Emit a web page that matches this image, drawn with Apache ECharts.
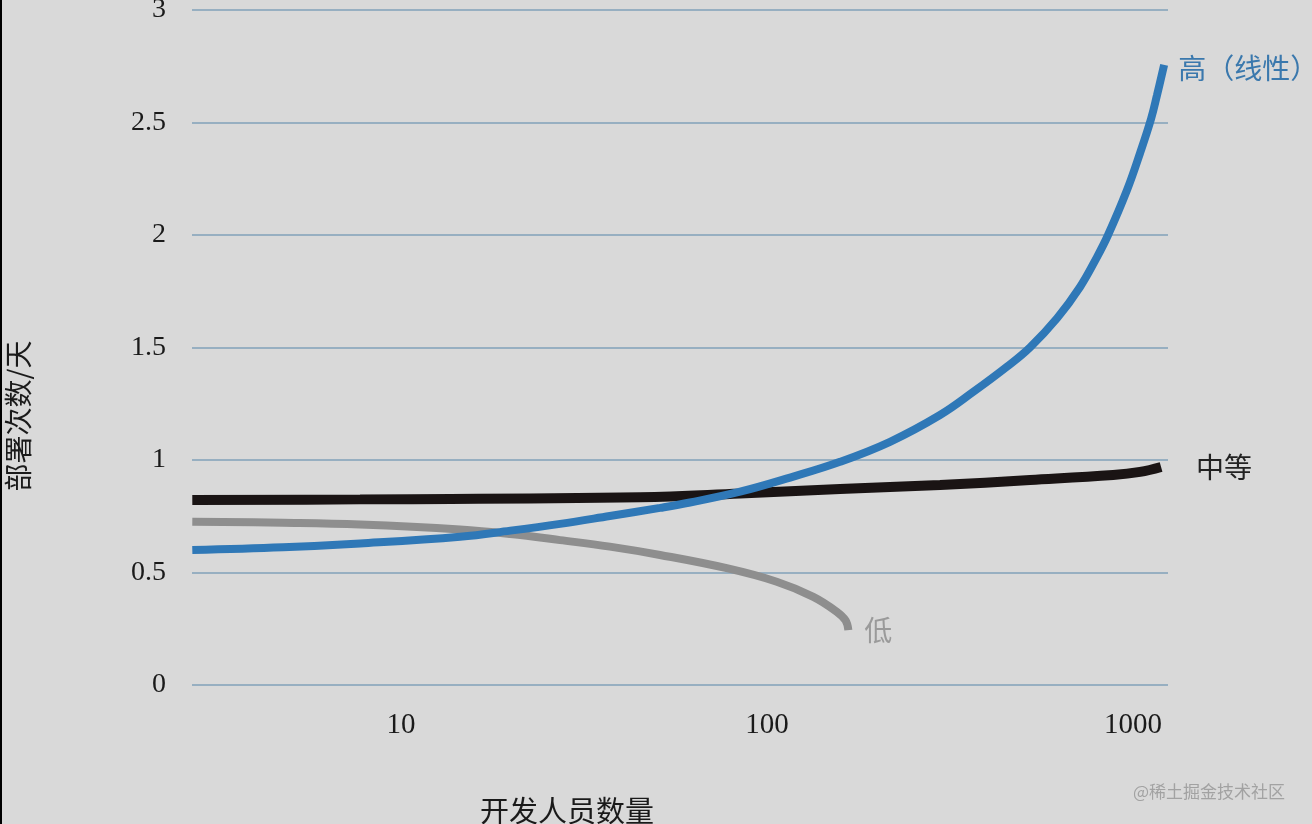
<!DOCTYPE html>
<html>
<head>
<meta charset="utf-8">
<script src="https://cdn.jsdelivr.net/npm/echarts@6/dist/echarts.min.js"></script>
<style>
html,body{margin:0;padding:0;background:#d9d9d9;}
#chart{width:1312px;height:824px;}
</style>
</head>
<body>
<div id="chart"></div>
<script>
// x: number of developers (log scale), y: deployments per day
var highData = [
  [2.69, 0.600], [4.76, 0.612], [7.73, 0.629], [14.5, 0.659], [19.9, 0.686],
  [27.2, 0.716], [37.2, 0.751], [51.0, 0.787], [61.6, 0.811], [84.4, 0.859],
  [115.6, 0.922], [158.3, 0.992], [216.8, 1.081], [296.9, 1.200], [365.4, 1.302],
  [452.6, 1.415], [523.2, 1.501], [619.9, 1.630], [716.4, 1.769], [797.1, 1.902],
  [854.5, 2.000], [962.9, 2.200], [1045, 2.364], [1120, 2.516], [1163, 2.622],
  [1216, 2.756]
];
var mediumData = [
  [2.69, 0.822], [7.73, 0.825], [45.0, 0.834], [84.4, 0.851], [158.3, 0.871],
  [296.9, 0.889], [523.2, 0.911], [882, 0.933], [1045, 0.947], [1193, 0.969]
];
var lowData = [
  [2.69, 0.726], [4.76, 0.721], [7.73, 0.713], [14.5, 0.691], [19.9, 0.671],
  [27.2, 0.644], [37.2, 0.615], [51.0, 0.578], [77.6, 0.519], [106.3, 0.459],
  [133.8, 0.392], [155.0, 0.326], [163.9, 0.287], [166.8, 0.244]
];
var seriesNames = ['高（线性）', '中等', '低'];
var xTickValues = [10, 100, 1000];
var yAxisTitle = '部署次数/天';
var xAxisTitle = '开发人员数量';
var watermark = '@稀土掘金技术社区';

var serif = '"Liberation Serif", "Noto Sans CJK SC", serif';
var cjk = '"Noto Sans CJK SC", "Liberation Serif", sans-serif';

var chart = echarts.init(document.getElementById('chart'));
chart.setOption({
  animation: false,
  backgroundColor: '#d9d9d9',
  grid: { left: 192, right: 144, top: 10, bottom: 139, outerBoundsMode: 'none', containLabel: false },
  xAxis: {
    type: 'log',
    logBase: 10,
    min: 2.685,
    max: 1246,
    axisLine: { show: false },
    axisTick: { show: false },
    splitLine: { show: false },
    minorTick: { show: false },
    axisLabel: {
      showMinLabel: false,
      showMaxLabel: false,
      margin: 26,
      fontFamily: serif,
      fontSize: 29,
      color: '#1a1a1a',
      formatter: function (v) {
        for (var i = 0; i < xTickValues.length; i++) {
          if (Math.abs(v - xTickValues[i]) < 1e-6 * xTickValues[i]) return String(xTickValues[i]);
        }
        return '';
      }
    }
  },
  yAxis: {
    type: 'value',
    min: 0,
    max: 3,
    interval: 0.5,
    axisLine: { show: false },
    axisTick: { show: false },
    axisLabel: {
      margin: 26,
      fontFamily: serif,
      fontSize: 28,
      color: '#1a1a1a'
    },
    splitLine: { lineStyle: { color: '#80a0b8', width: 1.5 } }
  },
  series: [
    {
      name: seriesNames[0],
      type: 'line',
      data: highData,
      smooth: 0.4,
      symbol: 'none',
      z: 4,
      lineStyle: { color: '#2f78b7', width: 8 },
      endLabel: {
        show: true,
        formatter: seriesNames[0],
        distance: 14,
        fontFamily: cjk,
        fontSize: 28,
        color: '#3a78ad',
        offset: [0, 3]
      }
    },
    {
      name: seriesNames[1],
      type: 'line',
      data: mediumData,
      smooth: 0.4,
      symbol: 'none',
      z: 3,
      lineStyle: { color: '#1a1414', width: 10 },
      endLabel: {
        show: true,
        formatter: seriesNames[1],
        distance: 35,
        fontFamily: cjk,
        fontSize: 28,
        color: '#222222'
      }
    },
    {
      name: seriesNames[2],
      type: 'line',
      data: lowData,
      smooth: 0.4,
      symbol: 'none',
      z: 2,
      lineStyle: { color: '#8e8e8e', width: 8 },
      endLabel: {
        show: true,
        formatter: seriesNames[2],
        distance: 16,
        fontFamily: cjk,
        fontSize: 28,
        color: '#9a9a9a'
      }
    }
  ],
  graphic: [
    {
      type: 'rect',
      shape: { x: 0, y: 0, width: 2, height: 824 },
      style: { fill: '#000000' }
    },
    {
      type: 'text',
      x: 18,
      y: 416,
      rotation: Math.PI / 2,
      style: {
        text: yAxisTitle,
        align: 'center',
        verticalAlign: 'middle',
        font: '28px ' + cjk,
        fill: '#1a1a1a'
      }
    },
    {
      type: 'text',
      x: 567,
      y: 811,
      style: {
        text: xAxisTitle,
        align: 'center',
        verticalAlign: 'middle',
        font: '29px ' + cjk,
        fill: '#1a1a1a'
      }
    },
    {
      type: 'text',
      x: 1209,
      y: 792,
      style: {
        text: watermark,
        align: 'center',
        verticalAlign: 'middle',
        font: '17px ' + cjk,
        fill: '#a2a2a2'
      }
    }
  ]
});
</script>
</body>
</html>
